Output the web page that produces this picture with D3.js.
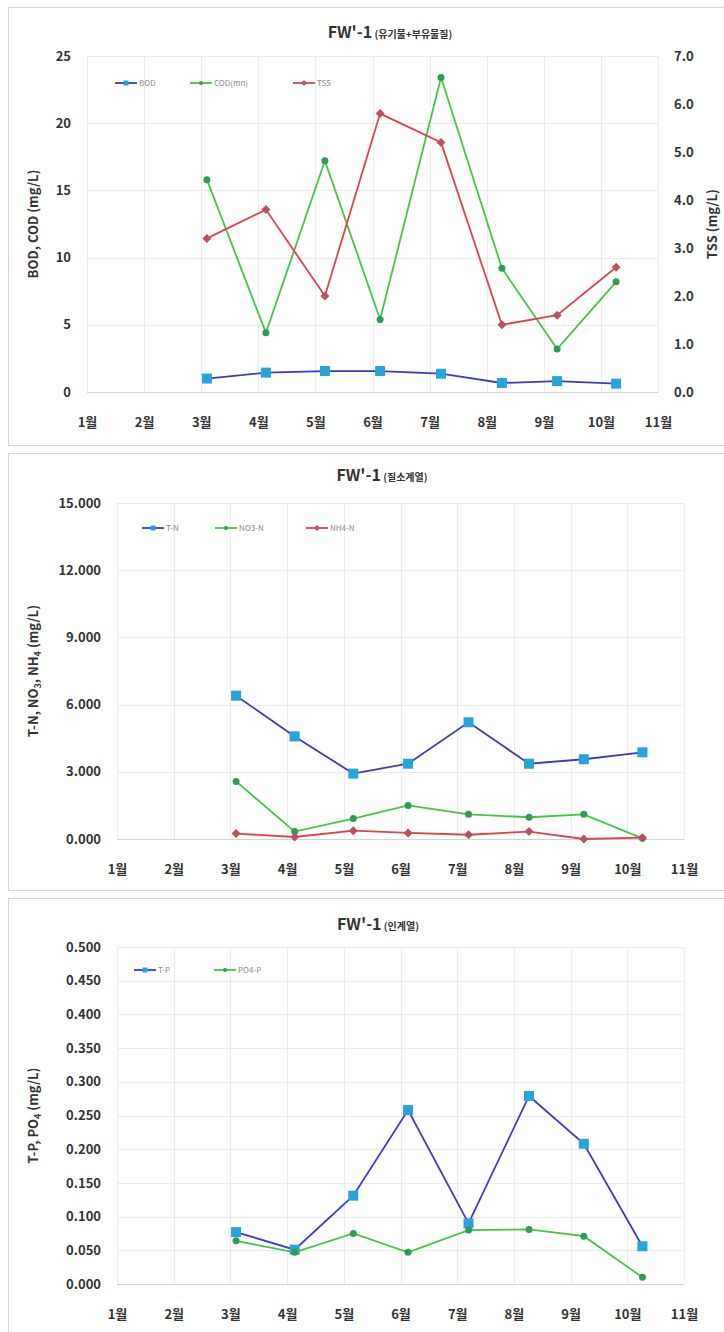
<!DOCTYPE html>
<html>
<head>
<meta charset="utf-8">
<script src="https://cdn.jsdelivr.net/npm/d3@7"></script>
<style>
  html, body { margin: 0; padding: 0; background: #ffffff; }
  svg text { font-family: "Noto Sans CJK KR", "Noto Sans", sans-serif; }
</style>
</head>
<body>
<svg id="chart" width="724" height="1332"></svg>
<script>
// Sampling months and the day of each monthly sampling
const sampleMonths = [3, 4, 5, 6, 7, 8, 9, 10];
const sampleDays   = [4, 5, 6, 5, 7, 9, 8, 9];
const monthTicks   = [1, 2, 3, 4, 5, 6, 7, 8, 9, 10, 11];
const monthLabels  = ["1월", "2월", "3월", "4월", "5월", "6월", "7월", "8월", "9월", "10월", "11월"];

// Organic matter + suspended solids (mg/L)
const bod = [1.0, 1.44, 1.56, 1.56, 1.36, 0.67, 0.81, 0.62];
const cod = [15.8, 4.4, 17.2, 5.4, 23.4, 9.2, 3.2, 8.2];
const tss = [3.2, 3.8, 2.0, 5.8, 5.2, 1.4, 1.6, 2.6];

// Nitrogen series (mg/L)
const tn  = [6.40, 4.58, 2.92, 3.36, 5.21, 3.36, 3.56, 3.87];
const no3 = [2.57, 0.33, 0.91, 1.50, 1.10, 0.97, 1.10, 0.03];
const nh4 = [0.24, 0.09, 0.37, 0.27, 0.19, 0.33, 0.00, 0.06];

// Phosphorus series (mg/L)
const tp  = [0.077, 0.051, 0.131, 0.258, 0.090, 0.279, 0.208, 0.056];
const po4 = [0.064, 0.047, 0.075, 0.047, 0.080, 0.081, 0.071, 0.010];

// Axis tick values
const codTicks = [0, 5, 10, 15, 20, 25];
const tssTicks = [0, 1, 2, 3, 4, 5, 6, 7];
const nTicks   = [0, 3, 6, 9, 12, 15];
const pTicks   = [0, 0.05, 0.1, 0.15, 0.2, 0.25, 0.3, 0.35, 0.4, 0.45, 0.5];

const svg = d3.select("#chart");

const STYLE = {
  blue:  { line: "#3b3bc8", fill: "#2ba3da", shape: "square" },
  green: { line: "#47c447", fill: "#2f9b57", shape: "circle" },
  red:   { line: "#e2404f", fill: "#b9525d", shape: "diamond" }
};

const monthPos = (m, d) => m + (d - 1) / 30;
const xValues = sampleMonths.map((m, i) => monthPos(m, sampleDays[i]));

function marker(g, shape, fill, cx, cy, s) {
  if (shape === "square") {
    g.append("rect").attr("x", cx - s / 2).attr("y", cy - s / 2)
      .attr("width", s).attr("height", s).attr("fill", fill);
  } else if (shape === "circle") {
    g.append("circle").attr("cx", cx).attr("cy", cy).attr("r", s / 2 - 0.5).attr("fill", fill);
  } else {
    const r = s / 2 + 0.5;
    g.append("path")
      .attr("d", `M${cx},${cy - r}L${cx + r},${cy}L${cx},${cy + r}L${cx - r},${cy}Z`)
      .attr("fill", fill);
  }
}

function drawPanel(cfg) {
  const g = svg.append("g");
  g.append("rect")
    .attr("x", cfg.panel[0] + 0.5).attr("y", cfg.panel[1] + 0.5)
    .attr("width", cfg.panel[2]).attr("height", cfg.panel[3])
    .attr("fill", "#ffffff").attr("stroke", "#d6d6d6");

  const x = d3.scaleLinear().domain([1, 11]).range([cfg.left, cfg.right]);
  const y = d3.scaleLinear().domain(cfg.yDomain).range([cfg.bottom, cfg.top]);

  // grid
  const grid = g.append("g");
  cfg.yTicks.forEach(t => {
    grid.append("line").attr("x1", cfg.left).attr("x2", cfg.right)
      .attr("y1", Math.round(y(t)) + 0.5).attr("y2", Math.round(y(t)) + 0.5)
      .attr("stroke", t === cfg.yDomain[0] ? "#d4d4d4" : "#ececec");
  });
  monthTicks.forEach(m => {
    grid.append("line").attr("y1", cfg.top).attr("y2", cfg.bottom)
      .attr("x1", Math.round(x(m)) + 0.5).attr("x2", Math.round(x(m)) + 0.5)
      .attr("stroke", "#ececec");
  });

  // left axis
  const yAxis = d3.axisLeft(y).tickValues(cfg.yTicks).tickFormat(d3.format(cfg.yFormat))
    .tickSize(0).tickPadding(cfg.tickPad);
  const ya = g.append("g").attr("transform", `translate(${cfg.left},0)`).call(yAxis);
  ya.select(".domain").remove();
  ya.selectAll("text").attr("font-size", 13).attr("font-weight", "bold").attr("fill", "#333");

  // right axis
  let y2 = null;
  if (cfg.y2Domain) {
    y2 = d3.scaleLinear().domain(cfg.y2Domain).range([cfg.bottom, cfg.top]);
    const ra = g.append("g").attr("transform", `translate(${cfg.right},0)`)
      .call(d3.axisRight(y2).tickValues(cfg.y2Ticks).tickFormat(d3.format(".1f"))
        .tickSize(0).tickPadding(cfg.tickPad));
    ra.select(".domain").remove();
    ra.selectAll("text").attr("font-size", 13).attr("font-weight", "bold").attr("fill", "#333");
  }

  // bottom axis
  const xa = g.append("g").attr("transform", `translate(0,${cfg.bottom})`)
    .call(d3.axisBottom(x).tickValues(monthTicks)
      .tickFormat((d, i) => monthLabels[i]).tickSize(0).tickPadding(cfg.xPad));
  xa.select(".domain").remove();
  xa.selectAll("text").attr("font-size", 13).attr("font-weight", "bold").attr("fill", "#333");

  // title
  const title = g.append("text").attr("x", cfg.titleX).attr("y", cfg.titleY)
    .attr("text-anchor", "middle").attr("fill", "#333");
  title.append("tspan").attr("font-size", 16).attr("font-weight", "bold").text("FW'-1");
  title.append("tspan").attr("font-size", 10).attr("font-weight", "bold").text(" " + cfg.subtitle);

  // axis titles
  const at = g.append("text")
    .attr("transform", `translate(${cfg.yTitleX},${(cfg.top + cfg.bottom) / 2}) rotate(-90)`)
    .attr("text-anchor", "middle").attr("font-size", 13).attr("font-weight", "bold").attr("fill", "#333");
  cfg.yTitle.forEach(part => {
    const ts = at.append("tspan").text(part.t);
    if (part.sub) ts.attr("font-size", 9).attr("dy", 3);
    if (part.up) ts.attr("dy", -3);
  });
  if (cfg.y2Title) {
    g.append("text")
      .attr("transform", `translate(${cfg.y2TitleX},${(cfg.top + cfg.bottom) / 2}) rotate(-90)`)
      .attr("text-anchor", "middle").attr("font-size", 13).attr("font-weight", "bold")
      .attr("fill", "#333").text(cfg.y2Title);
  }

  // series
  cfg.series.forEach(s => {
    const st = STYLE[s.style];
    const sy = s.right ? y2 : y;
    const line = d3.line().x((d, i) => x(xValues[i])).y(d => sy(d));
    g.append("path").datum(s.values).attr("d", line)
      .attr("fill", "none").attr("stroke", st.line).attr("stroke-width", 1.8);
    const mg = g.append("g");
    s.values.forEach((v, i) => marker(mg, st.shape, st.fill, x(xValues[i]), sy(v), s.size));
  });

  // legend
  cfg.series.forEach((s, i) => {
    const st = STYLE[s.style];
    const lx = cfg.legendX[i], ly = cfg.legendY;
    g.append("line").attr("x1", lx).attr("x2", lx + 22).attr("y1", ly).attr("y2", ly)
      .attr("stroke", st.line).attr("stroke-width", 1.8);
    marker(g, st.shape, st.fill, lx + 11, ly, 5);
    g.append("text").attr("x", lx + 24).attr("y", ly + 3)
      .attr("font-size", 8).attr("fill", "#8a8a8a").text(s.name);
  });
}

drawPanel({
  panel: [8, 7, 716, 438],
  left: 87, right: 658, top: 56, bottom: 392,
  yDomain: [0, 25], yTicks: codTicks, yFormat: "d",
  y2Domain: [0, 7], y2Ticks: tssTicks,
  tickPad: 16, xPad: 26,
  titleX: 390, titleY: 38, subtitle: "(유기물+부유물질)",
  yTitle: [{ t: "BOD, COD (mg/L)" }], yTitleX: 38,
  y2Title: "TSS (mg/L)", y2TitleX: 717,
  legendX: [115, 190, 293], legendY: 83,
  series: [
    { name: "BOD", values: bod, style: "blue", size: 10 },
    { name: "COD(mn)", values: cod, style: "green", size: 8 },
    { name: "TSS", values: tss, style: "red", size: 8, right: true }
  ]
});

drawPanel({
  panel: [8, 453, 716, 437],
  left: 117, right: 684, top: 503, bottom: 839,
  yDomain: [0, 15], yTicks: nTicks, yFormat: ".3f",
  tickPad: 16, xPad: 26,
  titleX: 382, titleY: 481, subtitle: "(질소계열)",
  yTitle: [{ t: "T-N, NO" }, { t: "3", sub: true }, { t: ", NH", up: true }, { t: "4", sub: true }, { t: " (mg/L)", up: true }],
  yTitleX: 38,
  legendX: [142, 215, 306], legendY: 528,
  series: [
    { name: "T-N", values: tn, style: "blue", size: 10 },
    { name: "NO3-N", values: no3, style: "green", size: 8 },
    { name: "NH4-N", values: nh4, style: "red", size: 8 }
  ]
});

drawPanel({
  panel: [8, 898, 716, 434],
  left: 117, right: 684, top: 947, bottom: 1284,
  yDomain: [0, 0.5], yTicks: pTicks, yFormat: ".3f",
  tickPad: 16, xPad: 26,
  titleX: 378, titleY: 930, subtitle: "(인계열)",
  yTitle: [{ t: "T-P, PO" }, { t: "4", sub: true }, { t: " (mg/L)", up: true }],
  yTitleX: 38,
  legendX: [134, 214], legendY: 970,
  series: [
    { name: "T-P", values: tp, style: "blue", size: 10 },
    { name: "PO4-P", values: po4, style: "green", size: 8 }
  ]
});
</script>
</body>
</html>
